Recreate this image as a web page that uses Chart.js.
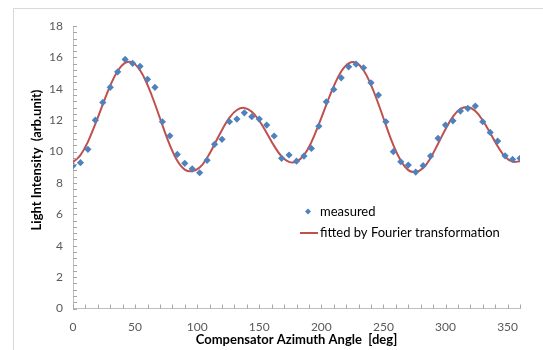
<!DOCTYPE html>
<html>
<head>
<meta charset="utf-8">
<script src="https://cdn.jsdelivr.net/npm/chart.js@4.4.1/dist/chart.umd.min.js"></script>
<style>
  html, body { margin: 0; padding: 0; background: #fff; }
  #wrap { width: 543px; height: 350px; position: relative; }
</style>
</head>
<body>
<div id="wrap"><canvas id="chart" width="543" height="350"></canvas></div>
<script>
// compensator angle in degrees, one measurement every 6 deg
const angles = [0, 6, 12, 18, 24, 30, 36, 42, 48, 54, 60, 66, 72, 78, 84,
    90, 96, 102, 108, 114, 120, 126, 132, 138, 144, 150, 156, 162, 168, 174,
    180, 186, 192, 198, 204, 210, 216, 222, 228, 234, 240, 246, 252, 258, 264,
    270, 276, 282, 288, 294, 300, 306, 312, 318, 324, 330, 336, 342, 348, 354, 360];

const measured = [9.10, 9.29, 10.14, 12.0, 13.13, 14.09, 15.08, 15.87, 15.62, 15.43, 14.6, 14.09, 11.9, 11.0, 9.82,
    9.25, 8.9, 8.65, 9.44, 10.46, 10.78, 11.9, 12.07, 12.47, 12.22, 12.07, 11.69, 10.99, 9.57, 9.78,
    9.39, 9.71, 10.2, 11.62, 13.17, 13.96, 14.7, 15.4, 15.57, 15.34, 14.38, 13.6, 11.9, 9.99, 9.35,
    9.14, 8.69, 9.1, 9.71, 10.84, 11.69, 11.96, 12.58, 12.75, 12.9, 11.9, 11.22, 10.67, 9.73, 9.5, 9.57];

const fitted = [9.32, 9.77, 10.62, 11.76, 13.01, 14.20, 15.13, 15.65, 15.67, 15.18, 14.25, 13.03, 11.68, 10.41, 9.41,
    8.85, 8.75, 8.98, 9.60, 10.47, 11.38, 12.16, 12.65, 12.78, 12.53, 11.96, 11.18, 10.36, 9.69, 9.34,
    9.36, 9.77, 10.60, 11.74, 12.98, 14.16, 15.10, 15.62, 15.66, 15.18, 14.25, 13.03, 11.68, 10.41, 9.41,
    8.82, 8.70, 8.95, 9.60, 10.50, 11.42, 12.22, 12.72, 12.84, 12.58, 11.98, 11.18, 10.34, 9.67, 9.36, 9.38];

const xLabels = [0, 50, 100, 150, 200, 250, 300, 350];
const yLabels = [0, 2, 4, 6, 8, 10, 12, 14, 16, 18];

const blue = '#4f81bd';
const red = '#c0504d';
const fontFamily = 'Lato, "Open Sans", sans-serif';

function isLabel(list, v) {
    return list.some(l => Math.abs(l - v) < 1e-6);
}

// light grey frame of the chart object
const framePlugin = {
    id: 'frame',
    beforeDraw(chart) {
        const c = chart.ctx;
        c.save();
        c.fillStyle = '#fff';
        c.fillRect(0, 0, chart.width, chart.height);
        c.strokeStyle = '#d9d9d9';
        c.lineWidth = 1;
        c.strokeRect(13.5, 8.5, 700, 500);
        c.restore();
    }
};

// small tick marks pointing into the plot area, plus the y axis title
const innerTicks = {
    id: 'innerTicks',
    afterDraw(chart) {
        const c = chart.ctx;
        const xs = chart.scales.x, ys = chart.scales.y;
        c.save();
        c.strokeStyle = '#a6a6a6';
        c.lineWidth = 1;
        c.beginPath();
        xs.ticks.forEach(t => {
            const px = Math.round(xs.getPixelForValue(t.value)) + 0.5;
            c.moveTo(px, ys.bottom);
            c.lineTo(px, ys.bottom - 4);
        });
        ys.ticks.forEach(t => {
            const py = Math.round(ys.getPixelForValue(t.value)) + 0.5;
            c.moveTo(xs.left, py);
            c.lineTo(xs.left + 4, py);
        });
        c.stroke();

        c.translate(37, 160);
        c.rotate(-Math.PI / 2);
        c.font = 'bold 13px ' + fontFamily;
        c.fillStyle = '#000';
        c.textAlign = 'center';
        c.textBaseline = 'middle';
        c.fillText('Light Intensity  (arb.unit)', 0, 0);
        c.restore();
    }
};

// legend placed inside the plot
const innerLegend = {
    id: 'innerLegend',
    afterDraw(chart) {
        const c = chart.ctx;
        c.save();
        c.font = '13px ' + fontFamily;
        c.textBaseline = 'middle';
        // measured
        c.fillStyle = blue;
        c.beginPath();
        c.moveTo(308, 208.5); c.lineTo(311, 211.5); c.lineTo(308, 214.5); c.lineTo(305, 211.5);
        c.closePath(); c.fill();
        c.fillStyle = '#000';
        c.fillText('measured', 320, 212);
        // fitted
        c.strokeStyle = red;
        c.lineWidth = 2;
        c.beginPath(); c.moveTo(300, 233); c.lineTo(318, 233); c.stroke();
        c.fillText('fitted by Fourier transformation', 320, 233);
        c.restore();
    }
};

new Chart(document.getElementById('chart'), {
    type: 'scatter',
    data: {
        datasets: [{
            label: 'measured',
            data: angles.map((a, i) => ({ x: a, y: measured[i] })),
            pointStyle: 'rectRot',
            pointRadius: 3.6,
            backgroundColor: blue,
            borderColor: blue,
            borderWidth: 0,
            showLine: false
        }, {
            label: 'fitted by Fourier transformation',
            data: angles.map((a, i) => ({ x: a, y: fitted[i] })),
            showLine: true,
            tension: 0.4,
            pointRadius: 0,
            borderColor: red,
            borderWidth: 2,
            backgroundColor: red
        }]
    },
    options: {
        responsive: false,
        animation: false,
        layout: { padding: { left: 13, right: 23, top: 26, bottom: 0 } },
        plugins: {
            legend: { display: false },
            tooltip: { enabled: false }
        },
        scales: {
            x: {
                type: 'linear',
                min: 0, max: 360,
                afterFit(s) { s.height = 41.5; },
                grid: { display: true, drawOnChartArea: false, drawTicks: false },
                border: { display: true, color: '#bfbfbf' },
                ticks: {
                    stepSize: 10,
                    autoSkip: false,
                    maxRotation: 0,
                    padding: 11,
                    color: '#595959',
                    font: { family: fontFamily, size: 12 },
                    callback: v => isLabel(xLabels, v) ? String(v) : ''
                },
                title: {
                    display: true,
                    text: 'Compensator Azimuth Angle  [deg]',
                    color: '#000',
                    font: { family: fontFamily, size: 13, weight: 'bold' },
                    padding: { top: 0, bottom: 2 }
                }
            },
            y: {
                min: 0, max: 18,
                afterFit(s) { s.width = 60; },
                grid: { display: true, drawOnChartArea: false, drawTicks: false },
                border: { display: true, color: '#bfbfbf' },
                ticks: {
                    stepSize: 0.4,
                    autoSkip: false,
                    padding: 10,
                    color: '#595959',
                    font: { family: fontFamily, size: 12 },
                    callback: v => isLabel(yLabels, v) ? String(Math.round(v)) : ''
                },
                title: { display: false }
            }
        }
    },
    plugins: [framePlugin, innerTicks, innerLegend]
});
</script>
</body>
</html>
